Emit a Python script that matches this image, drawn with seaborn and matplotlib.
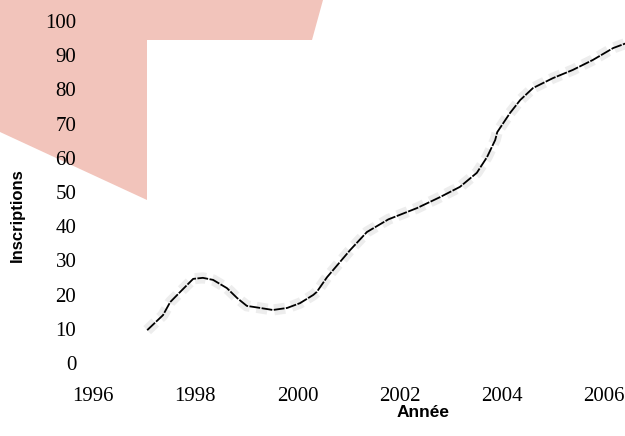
import matplotlib
matplotlib.use("Agg")
import matplotlib.pyplot as plt
from matplotlib.patches import Polygon, Rectangle
import seaborn as sns
import pandas as pd

# values
years = [1997.06, 1997.37, 1997.51, 1997.74, 1997.96, 1998.15, 1998.35, 1998.62,
         1998.82, 1999.01, 1999.27, 1999.52, 1999.80, 2000.05, 2000.31, 2000.38,
         2000.58, 2000.70, 2001.03, 2001.36, 2001.78, 2002.34, 2002.79,
         2003.18, 2003.51, 2003.71, 2003.87, 2003.91, 2004.16, 2004.36, 2004.61,
         2005.00, 2005.39, 2005.78, 2006.18, 2006.45]
inscriptions = [9.6, 14.0, 17.8, 21.3, 24.6, 24.9, 24.3, 21.9,
                19.0, 16.7, 16.1, 15.5, 16.1, 17.5, 19.9, 20.8,
                25.1, 27.2, 33.0, 38.3, 42.0, 45.3, 48.5,
                51.5, 55.6, 60.2, 65.2, 67.5, 73.1, 76.9, 80.4,
                83.3, 85.7, 88.6, 92.1, 93.6]
x_ticks = [1996, 1998, 2000, 2002, 2004, 2006]
y_ticks = [0, 10, 20, 30, 40, 50, 60, 70, 80, 90, 100]

df = pd.DataFrame({"Année": years, "Inscriptions": inscriptions})

sns.set_style("white")
plt.rcParams["font.family"] = ["Liberation Serif", "DejaVu Serif"]
plt.rcParams["text.color"] = "black"
plt.rcParams["axes.labelcolor"] = "black"
plt.rcParams["xtick.color"] = "black"
plt.rcParams["ytick.color"] = "black"

W, H = 625, 436
fig = plt.figure(figsize=(W / 100, H / 100), dpi=100)


def px(x, y):
    return (x / W, 1 - y / H)


# pink backdrop shape in the upper left, partly hidden by a white panel
pink = Polygon([px(0, 0), px(323, 0), px(312, 40), px(300, 120), px(147, 200), px(0, 132)],
               closed=True, transform=fig.transFigure, facecolor="#f2c4bb",
               edgecolor="none", zorder=0)
fig.add_artist(pink)
panel = Rectangle(px(147, 436), (W - 147) / W, (436 - 40) / H, transform=fig.transFigure,
                  facecolor="white", edgecolor="none", zorder=0.5)
fig.add_artist(panel)

ax = fig.add_axes([93 / W, (H - 363) / H, 532 / W, 342 / H])
ax.set_facecolor("none")
ax.set_zorder(1)

# faint speckled grey halo under the line
sns.lineplot(data=df, x="Année", y="Inscriptions", ax=ax, color="#e6e6e6",
             linewidth=8, alpha=0.7, linestyle=(0, (1, 0.6)))
sns.lineplot(data=df, x="Année", y="Inscriptions", ax=ax, color="black",
             linewidth=1.3, linestyle=(0, (6, 0.8)))

ax.set_xlim(1996, 2006.41)
ax.set_ylim(0, 100)
ax.set_xticks(x_ticks)
ax.set_yticks(y_ticks)
ax.tick_params(axis="both", length=0, labelsize=15, labelcolor="black")
ax.tick_params(axis="y", pad=12)
ax.tick_params(axis="x", pad=17)
sns.despine(ax=ax, left=True, bottom=True)

ax.set_xlabel("Année", fontfamily="Liberation Sans", fontweight="bold",
              fontsize=12.5, va="center", color="black")
ax.set_ylabel("Inscriptions", fontfamily="Liberation Sans", fontweight="bold",
              fontsize=12, va="center", color="black")
ax.xaxis.set_label_coords((423 - 93) / 532, (363 - 412) / 342)
ax.yaxis.set_label_coords((17 - 93) / 532, (363 - 215) / 342)

fig.savefig("out.png", dpi=100)
